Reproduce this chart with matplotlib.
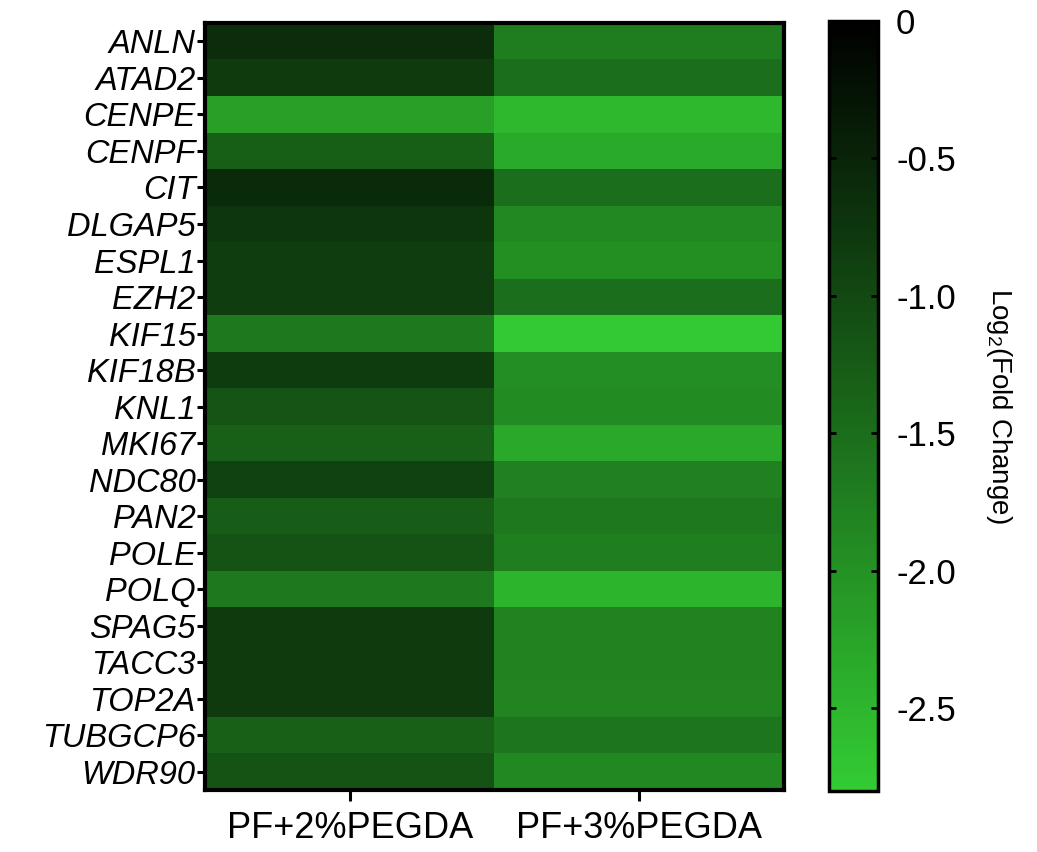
import numpy as np
import matplotlib
matplotlib.use("Agg")
import matplotlib.pyplot as plt
from matplotlib.colors import LinearSegmentedColormap

plt.rcParams["font.family"] = ["Liberation Sans", "DejaVu Sans"]
plt.rcParams["mathtext.fontset"] = "custom"
plt.rcParams["mathtext.rm"] = "Liberation Sans"
plt.rcParams["mathtext.it"] = "Liberation Sans:italic"

genes = ["ANLN", "ATAD2", "CENPE", "CENPF", "CIT", "DLGAP5", "ESPL1", "EZH2",
         "KIF15", "KIF18B", "KNL1", "MKI67", "NDC80", "PAN2", "POLE", "POLQ",
         "SPAG5", "TACC3", "TOP2A", "TUBGCP6", "WDR90"]
conditions = ["PF+2%PEGDA", "PF+3%PEGDA"]

# log2 fold change per gene
pf_2pct = [-0.63, -0.80, -2.20, -1.30, -0.60, -0.75, -0.85, -0.85,
           -1.67, -0.83, -1.15, -1.33, -0.90, -1.29, -1.14, -1.67,
           -0.80, -0.80, -0.80, -1.33, -1.14]
pf_3pct = [-1.72, -1.51, -2.52, -2.33, -1.51, -1.89, -1.96, -1.51,
           -2.76, -1.95, -1.91, -2.30, -1.78, -1.67, -1.74, -2.47,
           -1.80, -1.80, -1.82, -1.62, -1.87]

cbar_ticks = [0, -0.5, -1.0, -1.5, -2.0, -2.5]
cbar_ticklabels = ["0", "-0.5", "-1.0", "-1.5", "-2.0", "-2.5"]
vmin, vmax = -2.8, 0.0

data = np.column_stack([pf_2pct, pf_3pct])

cmap = LinearSegmentedColormap.from_list("green_black", ["#33cc33", "#000000"])

fig = plt.figure(figsize=(10.37, 8.52), dpi=100)
ax = fig.add_axes([0.198, 0.0728, 0.558, 0.900])
im = ax.imshow(data, cmap=cmap, vmin=vmin, vmax=vmax, aspect="auto",
               interpolation="nearest")

ax.set_xticks(range(len(conditions)))
ax.set_xticklabels(conditions, fontsize=26)
ax.set_yticks(range(len(genes)))
ax.set_yticklabels(genes, fontsize=23.5, style="italic")
ax.tick_params(axis="y", length=6, width=2.2, pad=1)
ax.tick_params(axis="x", length=8, width=2.2, pad=7)
for sp in ax.spines.values():
    sp.set_linewidth(3)

cax = fig.add_axes([0.7994, 0.0716, 0.0473, 0.9038])
cb = fig.colorbar(im, cax=cax)
cb.set_ticks(cbar_ticks)
cb.set_ticklabels(cbar_ticklabels)
cb.outline.set_linewidth(2.5)
cax.yaxis.set_tick_params(which="both", direction="in", left=True, right=True,
                          labelleft=False, labelright=True, length=5, width=2,
                          pad=13, labelsize=25)
cax.minorticks_off()
cb.set_label("Log$_2$(Fold Change)", rotation=270, fontsize=20, labelpad=42)

fig.savefig("out.png", dpi=100)
